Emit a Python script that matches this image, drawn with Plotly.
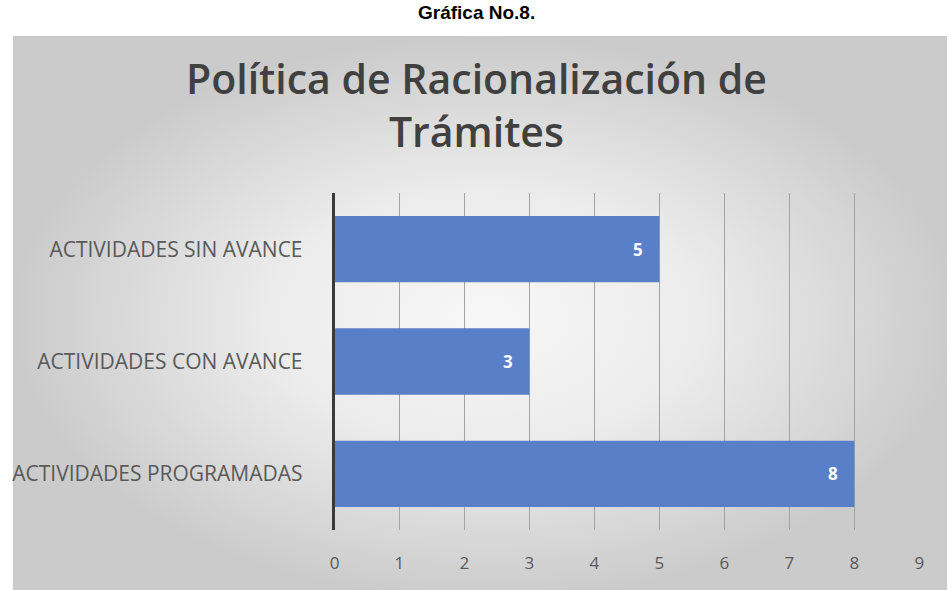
import plotly.graph_objects as go

categorias = ["ACTIVIDADES PROGRAMADAS", "ACTIVIDADES CON AVANCE", "ACTIVIDADES SIN AVANCE"]
valores = [8, 3, 5]
ticks_x = [0, 1, 2, 3, 4, 5, 6, 7, 8, 9]

W, H = 952, 590
texto_gris = "#595959"

fig = go.Figure()

# fondo gris con degradado radial (subplot xy, ejes ocultos)
fig.add_trace(go.Scatter(
    x=[8, W + 10, W + 10, 8, 8], y=[-10, -10, H - 36, H - 36, -10],
    mode="lines", fill="toself", line=dict(width=0),
    fillgradient=dict(type="radial",
                      colorscale=[[0, "#f7f7f7"], [0.45, "#ececec"], [1, "#cbcbcb"]]),
    hoverinfo="skip", showlegend=False,
    xaxis="x", yaxis="y",
))

# barras
fig.add_trace(go.Bar(
    x=valores, y=categorias, orientation="h",
    marker=dict(color="#5a7fc9", line=dict(width=0)),
    width=0.59,
    showlegend=False, xaxis="x2", yaxis="y2",
))

# etiquetas de valor dentro de cada barra
etiquetas = [
    dict(text=f"<b>{v}</b>", x=v, y=c, xref="x2", yref="y2", xshift=-21,
         showarrow=False, font=dict(family="Open Sans", size=17, color="white"))
    for c, v in zip(categorias, valores)
]

fig.update_layout(
    width=W, height=H,
    margin=dict(l=0, r=0, t=0, b=0),
    paper_bgcolor="white",
    plot_bgcolor="rgba(0,0,0,0)",
    xaxis=dict(domain=[0, 1], range=[0, W], visible=False, fixedrange=True),
    yaxis=dict(domain=[0, 1], range=[0, H], visible=False, fixedrange=True),
    xaxis2=dict(
        domain=[333 / W, 924 / W], anchor="y2",
        range=[0, 9], tickvals=ticks_x,
        showgrid=True, gridcolor="#a3a3a3", gridwidth=1,
        zeroline=False, showline=False,
        ticks="", ticklabelstandoff=21,
        tickfont=dict(family="Open Sans", size=17, color=texto_gris),
    ),
    yaxis2=dict(
        domain=[(H - 530) / H, (H - 193) / H], anchor="x2",
        showline=True, linecolor="#3a3a3a", linewidth=2.5,
        showgrid=False, ticks="", ticklabelstandoff=25,
        tickfont=dict(family="Open Sans", size=21, color=texto_gris),
    ),
    annotations=etiquetas + [
        dict(text="<b>Gráfica No.8.</b>", x=0.5, y=H - 12, xref="paper", yref="y",
             showarrow=False,
             font=dict(family="Liberation Sans Narrow, Liberation Sans", size=19, color="black")),
        dict(text="Política de Racionalización de<br>Trámites", x=0.5, y=H - 104,
             xref="paper", yref="y", showarrow=False,
             font=dict(family="Open Sans", size=41, weight=600, color="#404040")),
    ],
)

fig.write_html(
    "out.html",
    config={"displayModeBar": False},
    post_script=("document.documentElement.style.overflow='hidden';"
                 "document.body.style.margin='0';document.body.style.overflow='hidden';"),
)
